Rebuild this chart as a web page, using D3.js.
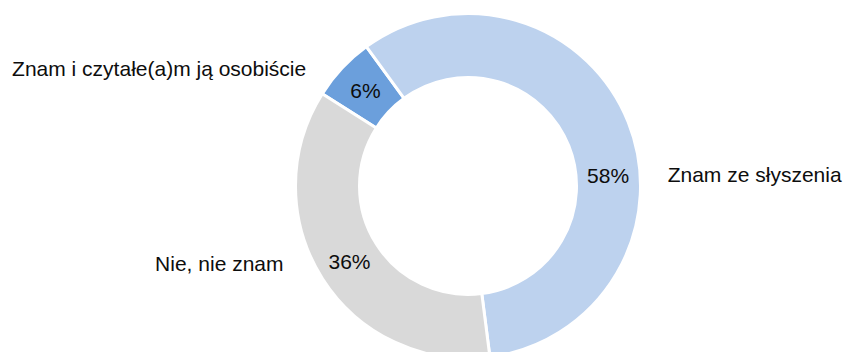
<!DOCTYPE html>
<html>
<head>
<meta charset="utf-8">
<script src="https://cdn.jsdelivr.net/npm/d3@7/dist/d3.min.js"></script>
<style>
  html, body { margin: 0; padding: 0; background: #fff; }
  svg text { font-family: "Liberation Sans", Arial, sans-serif; font-size: 21px; fill: #0d0d0d; }
</style>
</head>
<body>
<svg id="chart" width="845" height="352"></svg>
<script>
// data
const categories = ["Znam i czytałe(a)m ją osobiście", "Znam ze słyszenia", "Nie, nie znam"];
const values = [6, 58, 36];
const colors = ["#6b9fdc", "#bdd2ee", "#d9d9d9"];

// label placement (degrees, clockwise from top); null = middle of slice
const valueLabelAngle = [null, 85.5, null];
const nameLabelAngle = [-54, 86.8, 247.3];

const width = 845, height = 352;
const cx = 468, cy = 186;
const outerR = 172.5, innerR = 108.5;
const startDeg = -57.7;

const rad = d => d * Math.PI / 180;

const svg = d3.select("#chart");
const g = svg.append("g").attr("transform", `translate(${cx},${cy})`);

const data = categories.map((c, i) => ({ name: c, value: values[i], color: colors[i], i }));

const pie = d3.pie()
    .sort(null)
    .value(d => d.value)
    .startAngle(rad(startDeg))
    .endAngle(rad(startDeg + 360));

const arcs = pie(data);

const arc = d3.arc().innerRadius(innerR).outerRadius(outerR);

g.selectAll("path.slice")
    .data(arcs)
    .enter().append("path")
    .attr("class", "slice")
    .attr("d", arc)
    .attr("fill", d => d.data.color)
    .attr("stroke", "#fff")
    .attr("stroke-width", 3);

// percent labels inside the ring
const midR = (innerR + outerR) / 2;
const polar = (a, r) => [r * Math.sin(a), -r * Math.cos(a)];

g.selectAll("text.pct")
    .data(arcs)
    .enter().append("text")
    .attr("class", "pct")
    .attr("text-anchor", "middle")
    .attr("dy", "0.358em")
    .attr("transform", d => {
        const ov = valueLabelAngle[d.data.i];
        const a = ov == null ? (d.startAngle + d.endAngle) / 2 : rad(ov);
        const [x, y] = polar(a, midR);
        return `translate(${x},${y})`;
    })
    .text(d => d.data.value + "%");

// category labels outside
const nameR = 200;
g.selectAll("text.name")
    .data(arcs)
    .enter().append("text")
    .attr("class", "name")
    .attr("dy", "0.358em")
    .attr("text-anchor", d => {
        const a = rad(nameLabelAngle[d.data.i]);
        return Math.sin(a) >= 0 ? "start" : "end";
    })
    .attr("transform", d => {
        const [x, y] = polar(rad(nameLabelAngle[d.data.i]), nameR);
        return `translate(${x},${y})`;
    })
    .text(d => d.data.name);
</script>
</body>
</html>
